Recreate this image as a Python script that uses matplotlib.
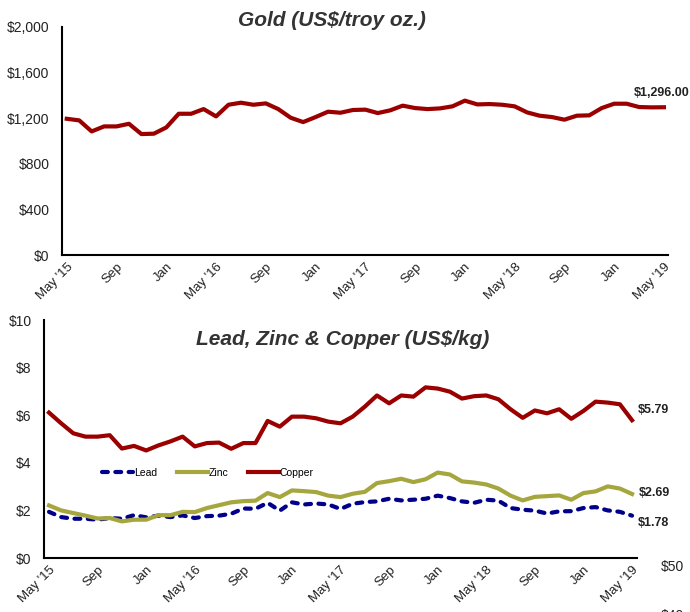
import matplotlib
matplotlib.use("Agg")
import matplotlib.pyplot as plt

plt.rcParams['font.family'] = ['Liberation Sans', 'DejaVu Sans']

# monthly points, May 2015 .. May 2019
tick_labels = ["May '15", "Sep", "Jan", "May '16", "Sep", "Jan", "May '17",
               "Sep", "Jan", "May '18", "Sep", "Jan", "May '19"]

gold = [1195, 1181, 1084, 1128, 1128, 1151, 1061, 1064, 1119, 1239,
        1239, 1280, 1216, 1318, 1336, 1318, 1330, 1280, 1204, 1166,
        1210, 1257, 1248, 1272, 1275, 1245, 1269, 1310, 1289, 1280,
        1286, 1304, 1354, 1321, 1324, 1318, 1304, 1251, 1222, 1210,
        1187, 1222, 1225, 1289, 1327, 1327, 1298, 1295, 1296]

copper = [6.11, 5.66, 5.24, 5.10, 5.10, 5.16, 4.60, 4.71, 4.52, 4.73,
          4.90, 5.10, 4.69, 4.83, 4.85, 4.59, 4.83, 4.83, 5.76, 5.52,
          5.94, 5.94, 5.87, 5.73, 5.66, 5.94, 6.36, 6.83, 6.50, 6.83,
          6.78, 7.17, 7.12, 6.99, 6.70, 6.80, 6.83, 6.67, 6.25, 5.89,
          6.20, 6.08, 6.25, 5.85, 6.18, 6.57, 6.53, 6.46, 5.79]

zinc = [2.21, 2.00, 1.89, 1.78, 1.66, 1.68, 1.54, 1.61, 1.61, 1.80,
        1.80, 1.94, 1.93, 2.10, 2.22, 2.34, 2.39, 2.41, 2.73, 2.56,
        2.84, 2.81, 2.77, 2.62, 2.56, 2.70, 2.78, 3.15, 3.23, 3.33,
        3.19, 3.31, 3.59, 3.51, 3.22, 3.17, 3.09, 2.92, 2.62, 2.42,
        2.57, 2.60, 2.63, 2.45, 2.73, 2.80, 3.01, 2.92, 2.69]

lead = [1.94, 1.72, 1.65, 1.65, 1.61, 1.68, 1.65, 1.80, 1.71, 1.78,
        1.72, 1.79, 1.68, 1.76, 1.78, 1.86, 2.08, 2.07, 2.32, 1.99,
        2.34, 2.25, 2.29, 2.25, 2.06, 2.28, 2.35, 2.38, 2.49, 2.42,
        2.45, 2.49, 2.62, 2.52, 2.38, 2.32, 2.45, 2.41, 2.10, 2.03,
        1.99, 1.87, 1.96, 1.97, 2.10, 2.14, 2.00, 1.94, 1.78]

RED = '#9b0000'
OLIVE = '#a6a63f'
NAVY = '#00008b'
TXT = '#222222'

x = list(range(len(gold)))
ticks = x[::4]


def style_axes(ax):
    for s in ['top', 'right']:
        ax.spines[s].set_visible(False)
    for s in ['left', 'bottom']:
        ax.spines[s].set_linewidth(1.5)
    ax.tick_params(axis='y', length=0, pad=9, labelsize=10, labelcolor=TXT)
    ax.tick_params(axis='x', length=0, pad=4, labelsize=9.5, labelcolor=TXT)
    ax.set_xticks(ticks)
    ax.set_xticklabels(tick_labels, rotation=45, ha='right',
                       rotation_mode='anchor')


fig = plt.figure(figsize=(6.9, 6.12), dpi=100)

# Gold
ax1 = fig.add_axes([0.0899, 0.5833, 0.8781, 0.3726])
ax1.plot(x, gold, color=RED, lw=3)
ax1.set_ylim(0, 2000)
ax1.set_yticks([0, 400, 800, 1200, 1600, 2000])
ax1.set_yticklabels(['$0', '$400', '$800', '$1,200', '$1,600', '$2,000'])
ax1.set_xlim(-0.38, 48.32)
style_axes(ax1)
fig.text(332 / 690, 1 - 20 / 612, 'Gold (US$/troy oz.)', ha='center',
         va='center', fontsize=15, fontweight='bold', style='italic',
         color='#333333')
ax1.annotate('$1,296.00', (x[-1], gold[-1]), xytext=(-2, 6),
             textcoords='offset points', ha='center', va='bottom',
             fontsize=9, fontweight='bold', color=TXT, annotation_clip=False)

# Lead, zinc, copper
ax2 = fig.add_axes([0.0638, 0.0882, 0.8594, 0.3889])
ax2.plot(x, lead, color=NAVY, lw=3, ls=(0, (1.4, 1.8)),
         dash_capstyle='round', label='Lead')
ax2.plot(x, zinc, color=OLIVE, lw=3, label='Zinc')
ax2.plot(x, copper, color=RED, lw=3, label='Copper')
ax2.set_ylim(0, 10)
ax2.set_yticks([0, 2, 4, 6, 8, 10])
ax2.set_yticklabels(['$0', '$2', '$4', '$6', '$8', '$10'])
ax2.set_xlim(-0.41, 48.41)
style_axes(ax2)
ax2.text(0.504, 0.92, 'Lead, Zinc & Copper (US$/kg)', transform=ax2.transAxes,
         ha='center', va='center', fontsize=15, fontweight='bold',
         style='italic', color='#333333')
ax2.legend(loc='center left', bbox_to_anchor=(0.098, 0.357), ncol=3,
           frameon=False, fontsize=7.5, handlelength=3.0, handletextpad=0.05,
           columnspacing=1.9, borderpad=0, borderaxespad=0)

ax2.annotate('$5.79', (x[-1], copper[-1]), xytext=(4, 7),
             textcoords='offset points', ha='left', va='center',
             fontsize=9, fontweight='bold', color=TXT, annotation_clip=False)
ax2.annotate('$2.69', (x[-1], zinc[-1]), xytext=(5, 1),
             textcoords='offset points', ha='left', va='center',
             fontsize=9, fontweight='bold', color=TXT, annotation_clip=False)
ax2.annotate('$1.78', (x[-1], lead[-1]), xytext=(4, -5),
             textcoords='offset points', ha='left', va='center',
             fontsize=9, fontweight='bold', color=TXT, annotation_clip=False)

# bits of a neighbouring chart cut off at the edge
fig.text(0.958, 0.0735, '$50', fontsize=10, color=TXT, va='center')
fig.text(0.958, -0.006, '$40', fontsize=10, color=TXT, va='center')

fig.savefig('out.png', dpi=100)
